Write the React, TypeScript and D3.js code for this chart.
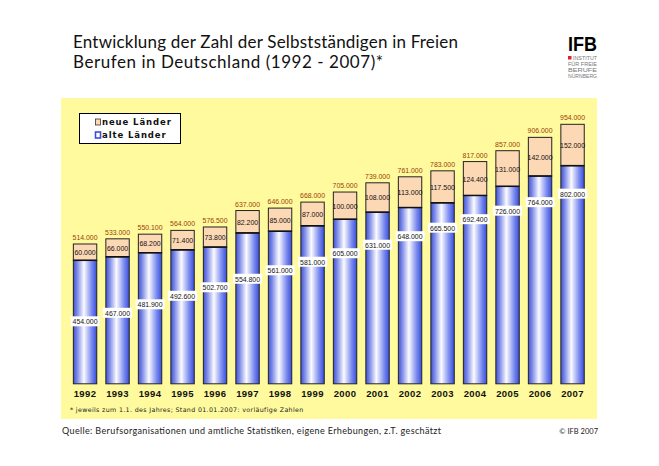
import * as d3 from 'd3';

const years = ['1992', '1993', '1994', '1995', '1996', '1997', '1998', '1999', '2000', '2001', '2002', '2003', '2004', '2005', '2006', '2007'];
const alteLaender = [454000, 467000, 481900, 492600, 502700, 554800, 561000, 581000, 605000, 631000, 648000, 665500, 692400, 726000, 764000, 802000];
const neueLaender = [60000, 66000, 68200, 71400, 73800, 82200, 85000, 87000, 100000, 108000, 113000, 117500, 124400, 131000, 142000, 152000];
const totals = [514000, 533000, 550100, 564000, 576500, 637000, 646000, 668000, 705000, 739000, 761000, 783000, 817000, 857000, 906000, 954000];

const titleLines = ['Entwicklung der Zahl der Selbstständigen in Freien', 'Berufen in Deutschland (1992 - 2007)*'];
const legendLabels = ['neue Länder', 'alte Länder'];
const footnote = '* jeweils zum 1.1. des Jahres; Stand 01.01.2007: vorläufige Zahlen';
const source = 'Quelle: Berufsorganisationen und amtliche Statistiken, eigene Erhebungen, z.T. geschätzt';

const width = 659;
const height = 466;

const PEACH = '#fdd8b4';
const YELLOW = '#fffa9e';
const TOTAL_COLOR = '#9b3b06';

// deutsches Zahlenformat: 514.000
const de = d3.formatLocale({ decimal: ',', thousands: '.', grouping: [3], currency: ['', ' €'] });
const fmt = de.format(',d');

// Arial-Metrik grob geschätzt, damit die Zahlen schmal wie im Original werden
function numWidth(s: string, size: number) {
  let w = 0;
  for (const c of s) w += c === '.' ? 0.278 : 0.556;
  return w * size * 0.865;
}

export default function App() {
  const x = d3.scaleBand<string>()
    .domain(years)
    .range([68.8, 588.8])
    .paddingInner(0.28)
    .paddingOuter(0.14);

  const y = d3.scaleLinear()
    .domain([0, 1000000])
    .range([383.8, 111.8]);

  const n = years.length;
  // Beschriftungen der alten Länder wandern von unten nach oben
  const alteLabelY = d3.scaleLinear()
    .domain([0, n - 1])
    .range([y(alteLaender[0]) + 61, y(alteLaender[n - 1]) + 28]);

  const bw = x.bandwidth();
  const numSize = 8;

  return (
    <svg width={width} height={height} style={{ position: 'absolute', top: 0, left: 0, background: '#fff' }}>
      <defs>
        <linearGradient id="blueBar" x1="0" x2="1" y1="0" y2="0">
          <stop offset="0%" stopColor="#4253d6" />
          <stop offset="15%" stopColor="#7785e6" />
          <stop offset="45%" stopColor="#fbfbff" />
          <stop offset="78%" stopColor="#7b8bee" />
          <stop offset="100%" stopColor="#374ede" />
        </linearGradient>
      </defs>

      {/* Titel */}
      <g fontFamily="Lato, sans-serif" fontSize={17} fill="#111">
        <text x={73} y={48} textLength={385} lengthAdjust="spacing">{titleLines[0]}</text>
        <text x={73} y={68} textLength={310} lengthAdjust="spacing">{titleLines[1]}</text>
      </g>

      {/* IFB Logo */}
      <g fontFamily="Liberation Sans, sans-serif">
        <text x={568} y={51} fontSize={21} fontWeight="bold" fill="#000" textLength={29} lengthAdjust="spacingAndGlyphs">IFB</text>
        <rect x={568} y={56} width={3.5} height={3.5} fill="#e0202a" />
        <g fontSize={5} fill="#777">
          <text x={573} y={60} textLength={24} lengthAdjust="spacingAndGlyphs">INSTITUT</text>
          <text x={568} y={66} textLength={29} lengthAdjust="spacingAndGlyphs">FÜR FREIE</text>
          <text x={568} y={72} textLength={29} lengthAdjust="spacingAndGlyphs">BERUFE</text>
          <text x={568} y={78} textLength={29} lengthAdjust="spacingAndGlyphs">NÜRNBERG</text>
        </g>
      </g>

      {/* gelbe Fläche */}
      <rect x={61} y={98} width={536} height={321} fill={YELLOW} />

      {/* Legende */}
      <g>
        <rect x={79.5} y={113.5} width={101} height={30} fill="#fff" stroke="#000" strokeWidth={1} />
        <rect x={95.5} y={119} width={5} height={6} fill={PEACH} stroke="#333" strokeWidth={0.8} />
        <rect x={95.5} y={132} width={5} height={6} fill="#fff" stroke="#3a4fd8" strokeWidth={1.6} />
        <g fontFamily="DejaVu Sans, sans-serif" fontSize={8.5} fontWeight="bold" fill="#111" letterSpacing={0.9}>
          <text x={102} y={125}>{legendLabels[0]}</text>
          <text x={102} y={138}>{legendLabels[1]}</text>
        </g>
      </g>

      {/* Balken */}
      {years.map((yr, i) => {
        const x0 = x(yr)!;
        const cx = x0 + bw / 2;
        const yTot = y(totals[i]);
        const yAlt = y(alteLaender[i]);
        const y0 = y(0);
        const tLab = fmt(totals[i]);
        const nLab = fmt(neueLaender[i]);
        const aLab = fmt(alteLaender[i]);
        const aw = numWidth(aLab, numSize);
        const ay = alteLabelY(i);
        return (
          <g key={yr}>
            <rect x={x0} y={yAlt} width={bw} height={y0 - yAlt} fill="url(#blueBar)" stroke="#222" strokeWidth={1} />
            <rect x={x0} y={yTot} width={bw} height={yAlt - yTot} fill={PEACH} stroke="#222" strokeWidth={1} />
            <line x1={x0} x2={x0 + bw} y1={yAlt} y2={yAlt} stroke="#111" strokeWidth={1.5} />
            <g fontFamily="Liberation Sans, sans-serif" fontSize={numSize} textAnchor="middle">
              <text x={cx} y={yTot - 4} fill={TOTAL_COLOR} textLength={numWidth(tLab, numSize)} lengthAdjust="spacingAndGlyphs">{tLab}</text>
              <text x={cx} y={(yTot + yAlt) / 2 + 3} fill="#111" textLength={numWidth(nLab, numSize)} lengthAdjust="spacingAndGlyphs">{nLab}</text>
              <rect x={cx - aw / 2 - 2} y={ay - 5} width={aw + 4} height={10} fill="#fff" />
              <text x={cx} y={ay + 3} fill="#111" textLength={aw} lengthAdjust="spacingAndGlyphs">{aLab}</text>
            </g>
            <text x={cx} y={397} textAnchor="middle" fontFamily="Liberation Sans, sans-serif" fontSize={9.5} fontWeight="bold" fill="#111" letterSpacing={0.4}>{yr}</text>
          </g>
        );
      })}

      {/* Fußnote */}
      <text x={70} y={411.5} fontFamily="DejaVu Sans, sans-serif" fontSize={6.3} fill="#222" letterSpacing={0.35}>{footnote}</text>

      {/* Quelle */}
      <text x={62} y={434} fontFamily="Lato, sans-serif" fontSize={9} fill="#222" textLength={379} lengthAdjust="spacing">{source}</text>
      <text x={598} y={434} textAnchor="end" fontFamily="Lato, sans-serif" fontSize={7.5} fill="#222">© IFB 2007</text>
    </svg>
  );
}
